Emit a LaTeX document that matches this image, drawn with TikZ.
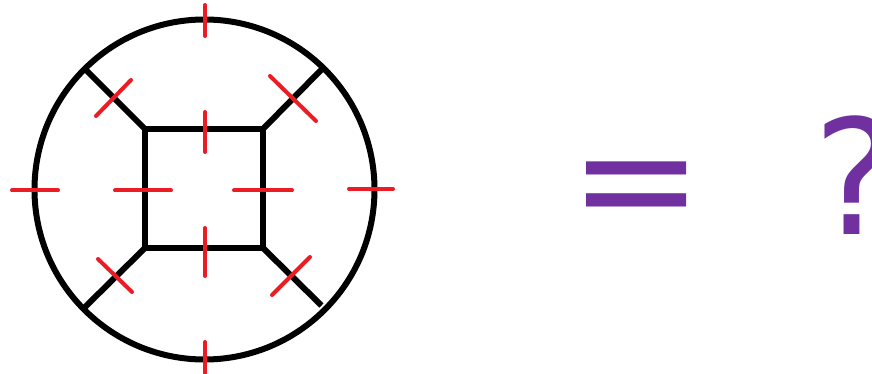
\documentclass[tikz,border=0pt]{standalone}
\usepackage{fontspec}
\setmainfont{DejaVu Sans}
\definecolor{tickred}{HTML}{EC1C24}
\definecolor{signpurple}{HTML}{7030A0}
\begin{document}
\begin{tikzpicture}[
    x=1pt, y=-1pt,
    wire/.style={draw=black, line width=6pt},
    tick/.style={draw=tickred, line width=4pt, line cap=round},
    sign/.style={text=signpurple, inner sep=0pt, anchor=base west,
                 font=\fontsize{160}{160}\selectfont}
]
\useasboundingbox (0,0) rectangle (872,374);
\coordinate (c) at (204.5,189.5);
\coordinate (nw) at (145,129);
\coordinate (ne) at (263,129);
\coordinate (sw) at (145,248);
\coordinate (se) at (263,248);
\draw[wire] (c) circle [radius=170pt];
\draw[wire] (nw) rectangle (se);
\draw[wire] (nw) -- ++(-60.5,-60.5)
            (ne) -- ++(58.5,-59.5)
            (sw) -- ++(-60.5,59.5)
            (se) -- ++(58.5,57.5);
% red marks
\draw[tick] (205,5) -- (205,36);
\draw[tick] (205,342) -- (205,373);
\draw[tick] (12,190.5) -- (58,190.5);
\draw[tick] (349,189) -- (393,189);
\draw[tick] (205,112) -- (205,152);
\draw[tick] (205,228) -- (205,276);
\draw[tick] (115,190.5) -- (171,190.5);
\draw[tick] (234,190.5) -- (292,190.5);
\draw[tick] (96,116) -- (131,80);
\draw[tick] (270,76) -- (316,121);
\draw[tick] (98,259) -- (132,292);
\draw[tick] (310,257) -- (272,295);
\node[sign] (eq) at (569,234) {=};
\node[sign] (qm) at (813,234) {?};
\end{tikzpicture}
\end{document}
